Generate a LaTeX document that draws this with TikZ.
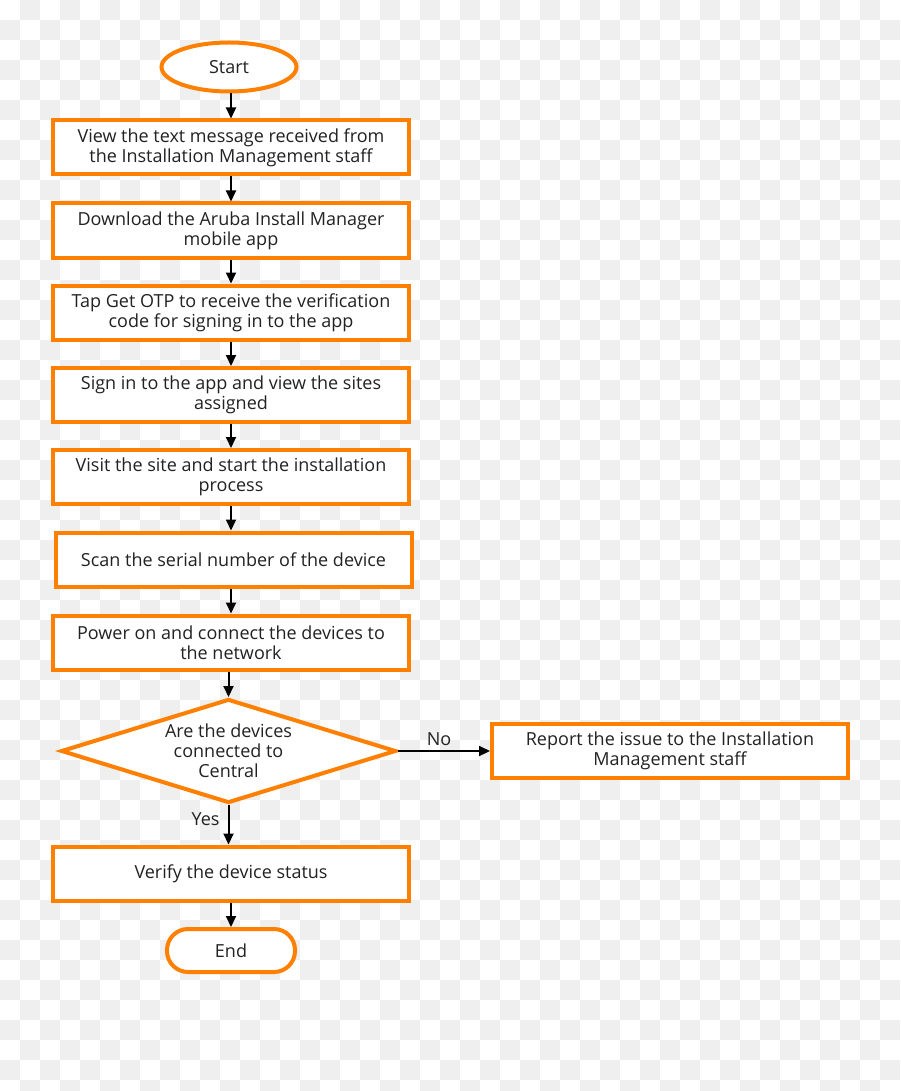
\documentclass[tikz,border=0pt]{standalone}
\usepackage{fontspec}
\setmainfont{Open Sans}
\usetikzlibrary{shapes.geometric,arrows.meta}
\definecolor{flowor}{HTML}{FF8000}
\definecolor{checker}{HTML}{EFEFEF}
\definecolor{txt}{HTML}{222222}
\begin{document}
\begin{tikzpicture}[x=1pt,y=-1pt,
  every node/.style={font=\fontsize{18}{20}\selectfont, text=txt},
  procbox/.style={draw=flowor, line width=4pt, fill=white, minimum width=356pt, minimum height=54pt, align=center, inner sep=0pt},
  termnode/.style={draw=flowor, line width=4pt, fill=white, ellipse, minimum width=135pt, minimum height=49pt, inner sep=0pt},
  endnode/.style={draw=flowor, line width=4pt, fill=white, rounded corners=21pt, minimum width=128pt, minimum height=43pt, inner sep=0pt},
  decbox/.style={draw=flowor, line width=4pt, fill=white, diamond, aspect=3.22, minimum width=335pt, minimum height=104pt, inner sep=0pt, align=center},
  arr/.style={draw=black, line width=2pt, -{Triangle[width=10pt,length=11pt]}},
  lbl/.style={font=\fontsize{18}{20}\selectfont, text=txt}]
\useasboundingbox (0,0) rectangle (900,1091);
\fill[white] (0,0) rectangle (900,1091);
\foreach \i in {0,...,44}{
  \foreach \j in {0,...,54}{
    \pgfmathparse{int(mod(\i+\j,2))}
    \ifnum\pgfmathresult=1
      \fill[checker] (\i*20,\j*20) rectangle ++(20,20);
    \fi
  }
}
\node[termnode] (start) at (229,67) {Start};
\node[procbox] (b1) at (231,147.5) {View the text message received from\\the Installation Management staff};
\node[procbox] (b2) at (231,230.5) {Download the Aruba Install Manager\\mobile app};
\node[procbox] (b3) at (231,312.5) {Tap Get OTP to receive the verification\\code for signing in to the app};
\node[procbox] (b4) at (231,395) {Sign in to the app and view the sites\\assigned};
\node[procbox] (b5) at (231,477) {Visit the site and start the installation\\process};
\node[procbox] (b6) at (233.5,559.5) {Scan the serial number of the device};
\node[procbox] (b7) at (231,642.5) {Power on and connect the devices to\\the network};
\node[decbox] (dec) at (228.5,751) {Are the devices\\connected to\\Central};
\node[procbox] (rep) at (670,751) {Report the issue to the Installation\\Management staff};
\node[procbox] (ver) at (231,873.5) {Verify the device status};
\node[endnode] (end) at (231,950.5) {End};

\draw[arr] (start.south -| b1.north) -- (b1.north);
\draw[arr] (b1.south) -- (b2.north);
\draw[arr] (b2.south) -- (b3.north);
\draw[arr] (b3.south) -- (b4.north);
\draw[arr] (b4.south) -- (b5.north);
\draw[arr] (b5.south) -- (b5.south |- b6.north);
\draw[arr] (b6.south -| b7.north) -- (b7.north);
\draw[arr] (b7.south -| dec.north) -- (dec.north);
\draw[arr] (dec.east) -- node[lbl, above, xshift=-5pt, inner sep=4pt] {No} (rep.west);
\draw[arr] (dec.south) -- node[lbl, left, pos=0.35, inner sep=8pt] {Yes} (dec.south |- ver.north);
\draw[arr] (ver.south) -- (end.north);
\end{tikzpicture}
\end{document}
